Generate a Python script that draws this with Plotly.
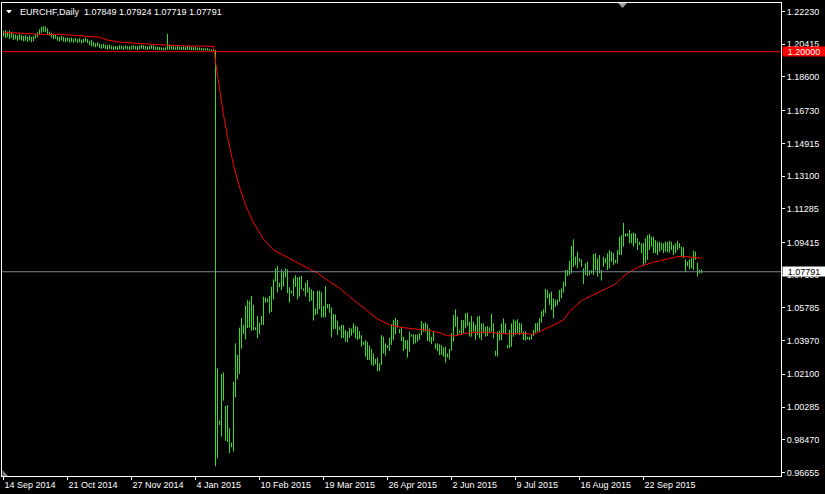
import plotly.graph_objects as go

# ---------------- data ----------------
symbol_title = "EURCHF,Daily"
last_ohlc = [1.07849, 1.07924, 1.07719, 1.07791]

highs = [
    1.2115, 1.2120, 1.2112, 1.2118, 1.2108, 1.2100, 1.2095, 1.2090, 1.2098, 1.2092,
    1.2088, 1.2094, 1.2085, 1.2090, 1.2082, 1.2088, 1.2098, 1.2108, 1.2125, 1.2138,
    1.2142, 1.2140, 1.2130, 1.2112, 1.2105, 1.2098, 1.2094, 1.2085, 1.2080, 1.2088,
    1.2082, 1.2076, 1.2080, 1.2074, 1.2078, 1.2072, 1.2076, 1.2070, 1.2074, 1.2068,
    1.2072, 1.2078, 1.2070, 1.2060, 1.2066, 1.2055, 1.2048, 1.2052, 1.2045, 1.2040,
    1.2044, 1.2038, 1.2036, 1.2040, 1.2034, 1.2030, 1.2033, 1.2030, 1.2036, 1.2034,
    1.2030, 1.2035, 1.2032, 1.2030, 1.2034, 1.2036, 1.2032, 1.2030, 1.2034, 1.2038,
    1.2035, 1.2032, 1.2030, 1.2033, 1.2036, 1.2034, 1.2030, 1.2028, 1.2026, 1.2024,
    1.2022, 1.2025, 1.2098, 1.2040, 1.2035, 1.2030, 1.2028, 1.2032, 1.2030, 1.2026,
    1.2030, 1.2028, 1.2032, 1.2030, 1.2026, 1.2028, 1.2025, 1.2022, 1.2024, 1.2022,
    1.2020, 1.2018, 1.2020, 1.2016, 1.2014, 1.2015, 1.2010,
    1.0244, 0.9953, 1.0212, 1.0221, 1.0034, 1.0040, 0.9911, 0.9831, 1.0168, 1.0382,
    1.0317, 1.0469, 1.0523, 1.0484, 1.0589, 1.0622, 1.0618, 1.0645, 1.0595, 1.0471,
    1.0534, 1.0496, 1.0534, 1.0641, 1.0637, 1.0630, 1.0645, 1.0696, 1.0737, 1.0798,
    1.0811, 1.0718, 1.0793, 1.0780, 1.0798, 1.0793, 1.0693, 1.0674, 1.0743, 1.0761,
    1.0748, 1.0752, 1.0756, 1.0687, 1.0718, 1.0733, 1.0693, 1.0682, 1.0674, 1.0576,
    1.0674, 1.0674, 1.0667, 1.0589, 1.0700, 1.0600, 1.0600, 1.0582, 1.0545, 1.0542,
    1.0508, 1.0475, 1.0484, 1.0484, 1.0456, 1.0447, 1.0469, 1.0465, 1.0493, 1.0480,
    1.0475, 1.0450, 1.0428, 1.0391, 1.0400, 1.0391, 1.0369, 1.0350, 1.0326, 1.0295,
    1.0302, 1.0271, 1.0428, 1.0419, 1.0382, 1.0373, 1.0413, 1.0488, 1.0511, 1.0524,
    1.0511, 1.0461, 1.0474, 1.0419, 1.0400, 1.0400, 1.0447, 1.0432, 1.0432, 1.0432,
    1.0432, 1.0438, 1.0506, 1.0493, 1.0498, 1.0488, 1.0465, 1.0419, 1.0447, 1.0382,
    1.0382, 1.0377, 1.0373, 1.0360, 1.0363, 1.0326, 1.0350, 1.0438, 1.0539, 1.0571,
    1.0530, 1.0452, 1.0511, 1.0511, 1.0548, 1.0552, 1.0502, 1.0534, 1.0502, 1.0484,
    1.0530, 1.0534, 1.0493, 1.0493, 1.0474, 1.0478, 1.0471, 1.0545, 1.0493, 1.0341,
    1.0447, 1.0452, 1.0493, 1.0521, 1.0493, 1.0373, 1.0456, 1.0493, 1.0515, 1.0508,
    1.0515, 1.0497, 1.0493, 1.0447, 1.0450, 1.0419, 1.0419, 1.0434, 1.0456, 1.0493,
    1.0497, 1.0521, 1.0560, 1.0570, 1.0685, 1.0678, 1.0660, 1.0669, 1.0632, 1.0622,
    1.0626, 1.0678, 1.0687, 1.0724, 1.0789, 1.0789, 1.0840, 1.0922, 1.0959, 1.0863,
    1.0891, 1.0854, 1.0848, 1.0798, 1.0826, 1.0835, 1.0785, 1.0789, 1.0878, 1.0882,
    1.0854, 1.0872, 1.0789, 1.0863, 1.0854, 1.0882, 1.0900, 1.0891, 1.0882, 1.0845,
    1.0900, 1.0974, 1.0983, 1.1051, 1.0992, 1.0992, 1.1011, 1.0992, 1.0996, 1.0992,
    1.0965, 1.0946, 1.0937, 1.0937, 1.0965, 1.0983, 1.0989, 1.0974, 1.0974, 1.0955,
    1.0946, 1.0946, 1.0940, 1.0937, 1.0946, 1.0944, 1.0951, 1.0946, 1.0928, 1.0937,
    1.0951, 1.0937, 1.0918, 1.0915, 1.0848, 1.0835, 1.0848, 1.0854, 1.0896, 1.0891,
    1.0829, 1.0789, 1.07924,
]

lows = [
    1.2085, 1.2076, 1.2080, 1.2070, 1.2078, 1.2065, 1.2068, 1.2060, 1.2066, 1.2062,
    1.2058, 1.2060, 1.2055, 1.2062, 1.2052, 1.2058, 1.2072, 1.2080, 1.2095, 1.2104,
    1.2110, 1.2108, 1.2096, 1.2088, 1.2078, 1.2070, 1.2072, 1.2060, 1.2056, 1.2062,
    1.2055, 1.2052, 1.2058, 1.2050, 1.2054, 1.2050, 1.2055, 1.2048, 1.2052, 1.2046,
    1.2050, 1.2055, 1.2048, 1.2036, 1.2030, 1.2028, 1.2025, 1.2030, 1.2020, 1.2016,
    1.2020, 1.2015, 1.2012, 1.2016, 1.2012, 1.2010, 1.2011, 1.2010, 1.2014, 1.2012,
    1.2010, 1.2015, 1.2012, 1.2010, 1.2011, 1.2014, 1.2012, 1.2009, 1.2012, 1.2016,
    1.2013, 1.2011, 1.2010, 1.2012, 1.2015, 1.2012, 1.2010, 1.2009, 1.2008, 1.2008,
    1.2007, 1.2008, 1.2010, 1.2012, 1.2012, 1.2010, 1.2010, 1.2012, 1.2010, 1.2009,
    1.2010, 1.2009, 1.2011, 1.2010, 1.2008, 1.2009, 1.2008, 1.2007, 1.2008, 1.2007,
    1.2006, 1.2006, 1.2007, 1.2006, 1.2005, 1.2005, 0.9700,
    0.9744, 0.9929, 0.9864, 1.0064, 0.9842, 0.9835, 0.9772, 0.9805, 0.9781, 1.0083,
    1.0182, 1.0212, 1.0352, 1.0434, 1.0404, 1.0466, 1.0470, 1.0452, 1.0456, 1.0456,
    1.0410, 1.0434, 1.0484, 1.0484, 1.0607, 1.0610, 1.0548, 1.0557, 1.0626, 1.0724,
    1.0663, 1.0693, 1.0678, 1.0696, 1.0748, 1.0660, 1.0607, 1.0660, 1.0645, 1.0696,
    1.0626, 1.0641, 1.0682, 1.0674, 1.0641, 1.0663, 1.0613, 1.0619, 1.0508, 1.0539,
    1.0545, 1.0571, 1.0526, 1.0526, 1.0526, 1.0576, 1.0552, 1.0415, 1.0460, 1.0462,
    1.0428, 1.0456, 1.0410, 1.0413, 1.0391, 1.0388, 1.0413, 1.0424, 1.0438, 1.0410,
    1.0400, 1.0406, 1.0363, 1.0373, 1.0308, 1.0289, 1.0289, 1.0262, 1.0256, 1.0265,
    1.0228, 1.0228, 1.0262, 1.0326, 1.0313, 1.0355, 1.0339, 1.0373, 1.0400, 1.0432,
    1.0469, 1.0438, 1.0395, 1.0339, 1.0351, 1.0302, 1.0336, 1.0419, 1.0377, 1.0382,
    1.0391, 1.0400, 1.0428, 1.0447, 1.0447, 1.0395, 1.0391, 1.0377, 1.0395, 1.0351,
    1.0339, 1.0317, 1.0317, 1.0308, 1.0275, 1.0304, 1.0293, 1.0341, 1.0391, 1.0474,
    1.0428, 1.0438, 1.0428, 1.0438, 1.0465, 1.0478, 1.0419, 1.0419, 1.0447, 1.0400,
    1.0428, 1.0410, 1.0400, 1.0438, 1.0419, 1.0422, 1.0441, 1.0447, 1.0410, 1.0312,
    1.0308, 1.0397, 1.0400, 1.0438, 1.0438, 1.0355, 1.0355, 1.0363, 1.0419, 1.0428,
    1.0438, 1.0428, 1.0438, 1.0400, 1.0397, 1.0404, 1.0400, 1.0404, 1.0423, 1.0438,
    1.0447, 1.0447, 1.0498, 1.0530, 1.0550, 1.0632, 1.0595, 1.0567, 1.0521, 1.0585,
    1.0595, 1.0613, 1.0632, 1.0663, 1.0696, 1.0755, 1.0761, 1.0770, 1.0807, 1.0817,
    1.0798, 1.0835, 1.0807, 1.0711, 1.0761, 1.0755, 1.0761, 1.0770, 1.0761, 1.0789,
    1.0752, 1.0770, 1.0730, 1.0807, 1.0826, 1.0789, 1.0798, 1.0835, 1.0817, 1.0826,
    1.0826, 1.0872, 1.0872, 1.0918, 1.0974, 1.0976, 1.0937, 1.0937, 1.0918, 1.0937,
    1.0900, 1.0928, 1.0882, 1.0817, 1.0826, 1.0845, 1.0900, 1.0918, 1.0882, 1.0882,
    1.0872, 1.0891, 1.0900, 1.0882, 1.0891, 1.0888, 1.0885, 1.0900, 1.0872, 1.0882,
    1.0900, 1.0909, 1.0863, 1.0855, 1.0780, 1.0811, 1.0793, 1.0798, 1.0789, 1.0845,
    1.0752, 1.0770, 1.07719,
]

# moving average (red line), bar index -> value
ma_idx = [0, 15, 22, 27, 33, 43, 48, 52, 57, 62, 68, 77, 91, 105, 106, 107, 108, 110,
          112, 115, 118, 121, 125, 130, 135, 141, 146, 153, 157, 163, 168, 173, 180,
          187, 193, 200, 207, 213, 218, 222, 226, 231, 237, 243, 247, 253, 260, 264,
          267, 270, 273, 275, 280, 283, 289, 295, 301, 306, 309, 313, 318, 325, 332,
          337, 342, 347, 349]
ma_val = [1.2108, 1.2100, 1.2094, 1.2098, 1.2093, 1.2087, 1.2080, 1.2065, 1.2055,
          1.2050, 1.2044, 1.2039, 1.2032, 1.2030, 1.1945, 1.1865, 1.1790, 1.1650,
          1.1530, 1.1370, 1.1250, 1.1150, 1.1050, 1.0960, 1.0900, 1.0867, 1.0835,
          1.0794, 1.0772, 1.0724, 1.0689, 1.0641, 1.0580, 1.0517, 1.0484, 1.0469,
          1.0460, 1.0454, 1.0441, 1.0424, 1.0424, 1.0438, 1.0443, 1.0443, 1.0438,
          1.0434, 1.0438, 1.0432, 1.0441, 1.0456, 1.0473, 1.0484, 1.0511, 1.0557,
          1.0619, 1.0650, 1.0684, 1.0711, 1.0744, 1.0779, 1.0807, 1.0832, 1.0850,
          1.0863, 1.0863, 1.0857, 1.0854]

floor_level = 1.20000
bid_level = 1.07791

x_tick_idx = [0, 32, 64, 96, 128, 160, 192, 224, 256, 288, 320]
x_tick_labels = ["14 Sep 2014", "21 Oct 2014", "27 Nov 2014", "4 Jan 2015",
                 "10 Feb 2015", "19 Mar 2015", "26 Apr 2015", "2 Jun 2015",
                 "9 Jul 2015", "16 Aug 2015", "22 Sep 2015"]
y_tick_vals = [1.22230, 1.20415, 1.18600, 1.16730, 1.14915, 1.13100, 1.11285,
               1.09415, 1.07600, 1.05785, 1.03970, 1.02100, 1.00285, 0.98470, 0.96655]

# ---------------- styling ----------------
W, H = 825, 494
ML, MR, MT, MB = 2, 44, 3, 18
PW, PH = W - ML - MR, H - MT - MB
BAR_COLOR = "#33DD22"
FONT = "Liberation Sans"


def px(xp, yp):
    """pixel -> paper coordinates"""
    return (xp - ML) / PW, 1 - (yp - MT) / PH


bx, by = [], []
for i, (h, l) in enumerate(zip(highs, lows)):
    bx += [i, i, None]
    by += [l, h, None]

fig = go.Figure()
fig.add_trace(go.Scatter(x=bx, y=by, mode="lines", line=dict(color=BAR_COLOR, width=1),
                         hoverinfo="skip", showlegend=False))
fig.add_trace(go.Scatter(x=ma_idx, y=ma_val, mode="lines", line=dict(color="#FF0000", width=1),
                         hoverinfo="skip", showlegend=False))

shapes = [
    dict(type="line", xref="paper", yref="y", x0=0, x1=1, y0=floor_level, y1=floor_level,
         line=dict(color="#FF0000", width=1)),
    dict(type="line", xref="paper", yref="y", x0=0, x1=1, y0=bid_level, y1=bid_level,
         line=dict(color="#778899", width=1)),
]


def tri(points, color):
    pts = [px(a, b) for a, b in points]
    path = "M " + " L ".join(f"{p[0]:.5f},{p[1]:.5f}" for p in pts) + " Z"
    return dict(type="path", xref="paper", yref="paper", path=path,
                fillcolor=color, line=dict(width=0))


shapes.append(tri([(6, 10), (12, 10), (9, 13.5)], "#FFFFFF"))
shapes.append(tri([(2.5, 470), (2.5, 476), (8, 476)], "#808080"))
shapes.append(tri([(618, 3), (627, 3), (622.5, 8)], "#A0A0A0"))

tx, ty = px(18, 12)
annotations = [
    dict(xref="paper", yref="paper", x=tx, y=ty, xanchor="left", yanchor="middle",
         showarrow=False, font=dict(color="white", size=9, family=FONT),
         text=symbol_title + "&nbsp;&nbsp;" + " ".join(f"{v:.5f}" for v in last_ohlc)),
    dict(xref="paper", yref="y", x=1, y=floor_level, xanchor="left", yanchor="middle",
         xshift=1, showarrow=False, text=f"{floor_level:.5f}", bgcolor="#FF0000",
         font=dict(color="white", size=9, family=FONT), width=42, height=9, borderpad=0),
    dict(xref="paper", yref="y", x=1, y=bid_level, xanchor="left", yanchor="middle",
         xshift=1, showarrow=False, text=f"{bid_level:.5f}", bgcolor="#FFFFFF",
         font=dict(color="black", size=9, family=FONT), width=42, height=9, borderpad=0),
]

fig.update_layout(
    width=W, height=H, margin=dict(l=ML, r=MR, t=MT, b=MB, pad=0),
    paper_bgcolor="black", plot_bgcolor="black", hovermode=False,
    shapes=shapes, annotations=annotations, showlegend=False,
    xaxis=dict(range=[-0.75, -0.75 + PW / 2], tickmode="array", tickvals=x_tick_idx,
               ticktext=x_tick_labels, ticks="outside", ticklen=3, tickcolor="white",
               showline=True, linecolor="white", linewidth=1, mirror=True,
               showgrid=False, zeroline=False, ticklabelposition="outside right",
               tickfont=dict(color="white", size=9, family=FONT)),
    yaxis=dict(side="right", range=[0.96460, 1.22702], tickmode="array",
               tickvals=y_tick_vals, ticktext=[f"{v:.5f}" for v in y_tick_vals],
               ticks="outside", ticklen=3, tickcolor="white",
               showline=True, linecolor="white", linewidth=1, mirror=True,
               showgrid=False, zeroline=False,
               tickfont=dict(color="white", size=9, family=FONT)),
)

fig.write_html("out.html", config={"displayModeBar": False},
               post_script="document.body.style.margin='0';"
                           "document.body.style.background='black';")
